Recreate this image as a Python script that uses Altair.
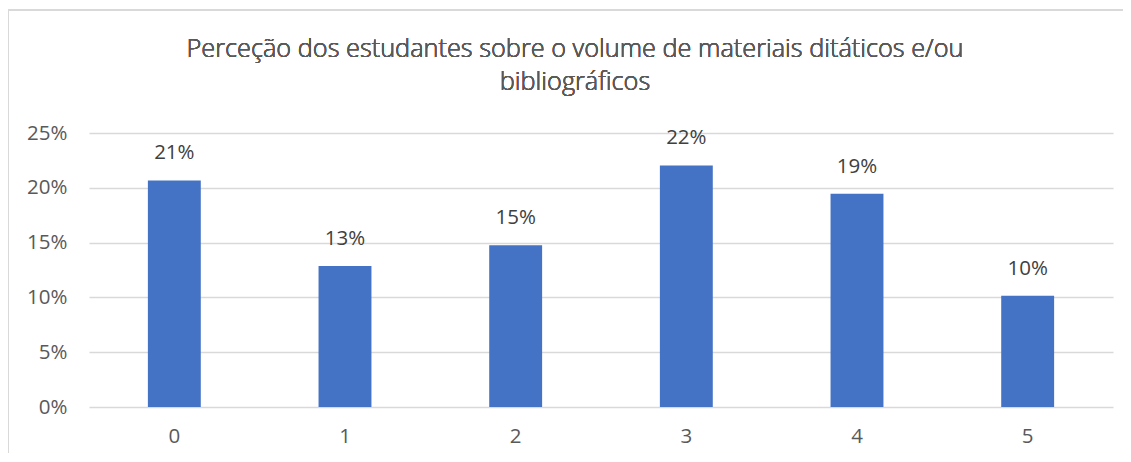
import altair as alt
import pandas as pd

categories = ["0", "1", "2", "3", "4", "5"]
values = [0.2067, 0.1287, 0.1475, 0.2204, 0.1946, 0.1014]
labels = ["21%", "13%", "15%", "22%", "19%", "10%"]
title_lines = ["Perceção dos estudantes sobre o volume de materiais ditáticos e/ou", "bibliográficos"]

df = pd.DataFrame({"cat": categories, "val": values, "lab": labels})

FONT = "Open Sans"
GREY = "#595959"
LINE = "#D9D9D9"

x = alt.X("cat:N", sort=categories, title=None,
          scale=alt.Scale(paddingInner=0.69, paddingOuter=0.345),
          axis=alt.Axis(labelAngle=0, labelFontSize=20.5, labelColor=GREY, labelFont=FONT,
                        labelFontWeight="normal",
                        domain=False, ticks=False, labelPadding=19))
y = alt.Y("val:Q", title=None,
          scale=alt.Scale(domain=[0, 0.25], nice=False),
          axis=alt.Axis(format=".0%", values=[0, 0.05, 0.1, 0.15, 0.2, 0.25],
                        labelFontSize=20.5, labelColor=GREY, labelFont=FONT,
                        labelFontWeight="normal",
                        domain=False, ticks=False, labelPadding=22,
                        grid=True, gridColor=LINE, gridWidth=1.3))

bars = alt.Chart(df).mark_bar(color="#4472C4").encode(x=x, y=y)
text = alt.Chart(df).mark_text(baseline="bottom", dy=-17, fontSize=20.5, font=FONT,
                               fontWeight="normal", color="#404040").encode(
    x=alt.X("cat:N", sort=categories), y="val:Q", text="lab:N")

title1 = alt.Chart(df).mark_text(fontSize=25.3, font=FONT, fontWeight=300, color=GREY,
                                 baseline="alphabetic", align="center").encode(
    x=alt.value(486), y=alt.value(-76), text=alt.value(title_lines[0]))
title2 = alt.Chart(df).mark_text(fontSize=25.3, font=FONT, fontWeight=300, color=GREY,
                                 baseline="alphabetic", align="center").encode(
    x=alt.value(486), y=alt.value(-43), text=alt.value(title_lines[1]))

frame_left = alt.Chart(df).mark_rule(color=LINE, strokeWidth=1.3).encode(
    x=alt.value(-81), y=alt.value(-123), y2=alt.value(340))
frame_top = alt.Chart(df).mark_rule(color=LINE, strokeWidth=1.3).encode(
    x=alt.value(-81), x2=alt.value(1040), y=alt.value(-123))

chart = alt.layer(bars, text, title1, title2, frame_left, frame_top).properties(
    width=1024, height=274,
    autosize=alt.AutoSizeParams(type="none"),
    padding={"left": 81, "top": 125, "right": 10, "bottom": 46},
).configure_view(stroke=None)

chart.save("out.html", embed_options={"renderer": "svg", "actions": False})
